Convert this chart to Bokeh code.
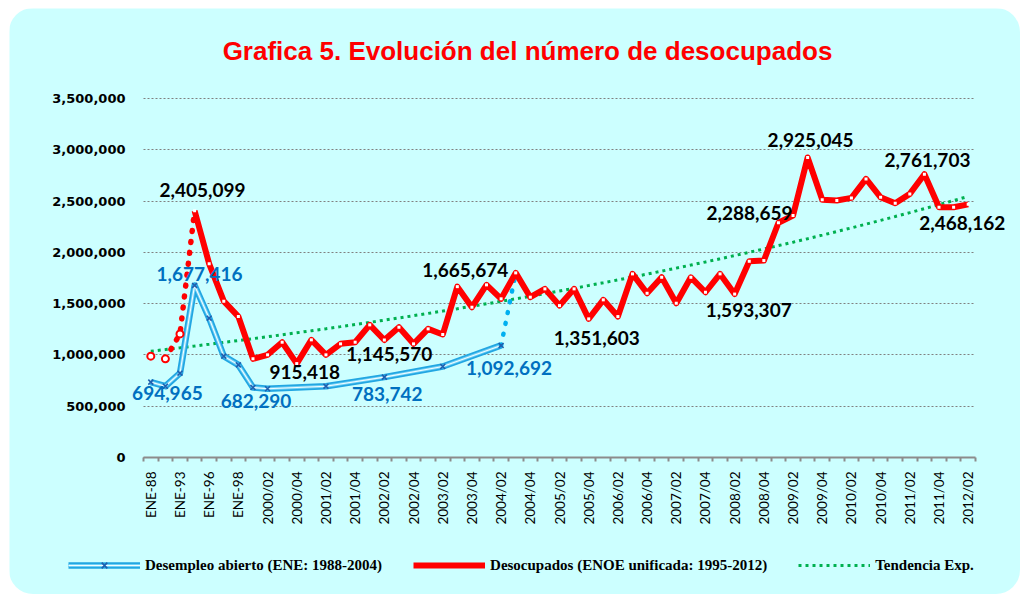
import numpy as np
from bokeh.plotting import figure
from bokeh.models import (Range1d, FixedTicker, NumeralTickFormatter, ColumnDataSource,
                          LabelSet, Label, Legend, LegendItem, InlineStyleSheet)
from bokeh.core.properties import value
from bokeh.embed import file_html
from bokeh.resources import INLINE

# ---------------- data ----------------
categories = [
    "ENE-88", "ENE-91", "ENE-93", "ENE-95", "ENE-96", "ENE-97", "ENE-98", "ENE-99",
    "2000/02", "2000/03", "2000/04",
    "2001/01", "2001/02", "2001/03", "2001/04",
    "2002/01", "2002/02", "2002/03", "2002/04",
    "2003/01", "2003/02", "2003/03", "2003/04",
    "2004/01", "2004/02", "2004/03", "2004/04",
    "2005/01", "2005/02", "2005/03", "2005/04",
    "2006/01", "2006/02", "2006/03", "2006/04",
    "2007/01", "2007/02", "2007/03", "2007/04",
    "2008/01", "2008/02", "2008/03", "2008/04",
    "2009/01", "2009/02", "2009/03", "2009/04",
    "2010/01", "2010/02", "2010/03", "2010/04",
    "2011/01", "2011/02", "2011/03", "2011/04",
    "2012/01", "2012/02",
]

# Desocupados (ENOE unificada: 1995-2012)
red_values = [
    988000, 962000, 1205000, 2405099, 1888000, 1524000, 1374000, 962000,
    1001000, 1124000, 915418,
    1147000, 1001000, 1108000, 1124000,
    1293000, 1145570, 1270000, 1108000,
    1254000, 1199000, 1665674, 1465000,
    1683000, 1547000, 1800000, 1563000,
    1644000, 1481000, 1644000, 1351603,
    1537000, 1374000, 1790000, 1601000,
    1757000, 1504000, 1757000, 1611000,
    1790000, 1593307, 1913000, 1920000,
    2288659, 2359000, 2925045, 2512000,
    2505000, 2531000, 2716000, 2537000,
    2479000, 2570000, 2761703, 2440000,
    2440000, 2468162,
]

# Desempleo abierto (ENE: 1988-2004)
blue_idx = [0, 1, 2, 3, 4, 5, 6, 7, 8, 12, 16, 20, 24]
blue_values = [735000, 694965, 822000, 1677416, 1358000, 988000, 903000, 682290,
               670000, 695000, 783742, 887000, 1092692]

# labelled points
red_label_idx = [3, 10, 16, 21, 30, 40, 43, 45, 53, 56]
blue_label_idx = [1, 3, 7, 16, 24]

legend_labels = ["Desempleo abierto (ENE: 1988-2004)",
                 "Desocupados (ENOE unificada: 1995-2012)",
                 "Tendencia Exp."]
title_text = "Grafica 5. Evolución del número de desocupados"
y_ticks = [0, 500000, 1000000, 1500000, 2000000, 2500000, 3000000, 3500000]
y_max = 3500000

# ---------------- styles / layout ----------------
red_label_off = {3: (8, -21), 10: (8, 8), 16: (5, 14), 21: (8, -17), 30: (8, 19),
                 40: (14, 16), 43: (-29, -10), 45: (3, -17), 53: (3, -14), 56: (-6, 19)}
blue_label_off = {1: (2, 7), 3: (5, -11), 7: (3, 13), 16: (3, 17), 24: (8, 23)}

BG = "#CCFFFF"
RED = "#FF0000"
BLUE_LINE = "#22A6E2"
BLUE_MARK = "#1F5FAF"
BLUE_LABEL = "#0070C0"
GREEN = "#00B050"

# page geometry (pixels)
FIG_LEFT, FIG_TOP, FIG_W, FIG_H = 9, 8, 1011, 586
PLOT_LEFT, PLOT_RIGHT, PLOT_TOP, PLOT_BOTTOM = 143, 975, 98, 457

n = len(categories)
x_all = np.arange(n)
UX = (PLOT_RIGHT - PLOT_LEFT) / n               # px per category
UY = y_max / (PLOT_BOTTOM - PLOT_TOP)           # value per px
x_start = -0.5 - (PLOT_LEFT - FIG_LEFT) / UX
x_end = n - 0.5 + (FIG_LEFT + FIG_W - PLOT_RIGHT) / UX
y_start = -(FIG_TOP + FIG_H - PLOT_BOTTOM) * UY
y_end = y_max + (PLOT_TOP - FIG_TOP) * UY

p = figure(width=FIG_W, height=FIG_H, output_backend="svg", toolbar_location=None,
           x_range=Range1d(x_start, x_end), y_range=Range1d(y_start, y_end),
           min_border=0, background_fill_color=BG, border_fill_color=BG)
p.outline_line_color = None
p.styles = {"margin-left": f"{FIG_LEFT}px", "margin-top": f"{FIG_TOP}px"}
p.stylesheets = [InlineStyleSheet(css=":host { border-radius: 24px; overflow: hidden; }")]

# axes (fixed inside the frame)
xa = p.xaxis[0]
xa.fixed_location = 0
xa.bounds = (-0.5, n - 0.5)
xa.ticker = FixedTicker(ticks=list(range(0, n, 2)),
                        minor_ticks=[i - 0.5 for i in range(n + 1)])
xa.major_label_overrides = {i: categories[i] for i in range(0, n, 2)}
xa.major_label_orientation = np.pi / 2
xa.major_tick_line_color = None
xa.major_tick_out = 0
xa.major_tick_in = 0
xa.minor_tick_line_color = "#8C8C8C"
xa.minor_tick_line_width = 2
xa.minor_tick_out = 4
xa.minor_tick_in = 0
xa.axis_line_color = "#8C8C8C"
xa.axis_line_width = 2
xa.major_label_standoff = 10
xa.major_label_text_font = "Lato"
xa.major_label_text_font_size = "13.5px"
xa.major_label_text_color = "#000000"

ya = p.yaxis[0]
ya.fixed_location = -0.5
ya.bounds = (0, y_max)
ya.ticker = FixedTicker(ticks=y_ticks)
ya.formatter = NumeralTickFormatter(format="0,0")
ya.axis_line_color = None
ya.major_tick_line_color = None
ya.minor_tick_line_color = None
ya.major_tick_out = 0
ya.major_label_standoff = 18
ya.major_label_text_font = "DejaVu Sans"
ya.major_label_text_font_style = "bold"
ya.major_label_text_font_size = "13px"
ya.major_label_text_color = "#000000"

p.xgrid.visible = False
grid = p.ygrid[0]
if "cross_bounds" in grid.properties():
    grid.cross_bounds = (-0.5, n - 0.5)
    grid.bounds = (0, y_max)
    grid.grid_line_color = "#808080"
    grid.grid_line_dash = "2 2"
    grid.grid_line_width = 1
else:
    grid.visible = False
    p.segment(x0=[-0.5] * len(y_ticks), x1=[n - 0.5] * len(y_ticks), y0=y_ticks, y1=y_ticks,
              line_color="#808080", line_dash="2 2", line_width=1)

# exponential trend fitted to the red series
b, lna = np.polyfit(x_all, np.log(np.array(red_values, dtype=float)), 1)
trend = np.exp(lna + b * x_all)
g_line = p.line(x_all, trend, line_color=GREEN, line_width=3, line_dash="3 4")

# blue series (double line)
bx = np.array(blue_idx)
by = np.array(blue_values)
b_outer = p.line(bx, by, line_color=BLUE_LINE, line_width=6.5, line_join="round")
b_mid = p.line(bx, by, line_color="#6FD0F5", line_width=3, line_join="round")
b_inner = p.line(bx, by, line_color="#F2FCFF", line_width=1.1, line_join="round")
p.line([blue_idx[-1], blue_idx[-1] + 1], [blue_values[-1], red_values[blue_idx[-1] + 1]],
       line_color="#00B0F0", line_width=4.5, line_dash="1 10", line_cap="round")

# red series
p.line(x_all[1:4], red_values[1:4], line_color=RED, line_width=5.5,
       line_dash="1 10", line_cap="round")
r_line = p.line(x_all[3:], red_values[3:], line_color=RED, line_width=6, line_join="round")
p.scatter(x_all[:3], red_values[:3], marker="circle", size=7, fill_color="white",
          line_color=RED, line_width=2)
p.scatter(x_all[3:], red_values[3:], marker="square", size=3,
          fill_color="white", line_color=None)
b_marks = p.scatter(bx, by, marker="x", size=7, line_color=BLUE_MARK, line_width=1.6)
# small white mark used only for the legend swatch of the red series
r_leg_mark = p.scatter(x=[], y=[], marker="square", size=3, line_color="white",
                       fill_color="white", line_width=1, fill_alpha=0, line_alpha=0)

# data labels
lab_x, lab_y, lab_t, lab_c, lab_dx, lab_dy = [], [], [], [], [], []
for i in red_label_idx:
    lab_x.append(i); lab_y.append(red_values[i]); lab_t.append(f"{red_values[i]:,}")
    lab_c.append("#000000"); lab_dx.append(red_label_off[i][0]); lab_dy.append(-red_label_off[i][1])
for i in blue_label_idx:
    v = blue_values[blue_idx.index(i)]
    lab_x.append(i); lab_y.append(v); lab_t.append(f"{v:,}")
    lab_c.append(BLUE_LABEL); lab_dx.append(blue_label_off[i][0]); lab_dy.append(-blue_label_off[i][1])
src = ColumnDataSource(dict(x=lab_x, y=lab_y, t=lab_t, c=lab_c, dx=lab_dx, dy=lab_dy))
p.add_layout(LabelSet(x="x", y="y", text="t", source=src, text_color="c",
                      x_offset="dx", y_offset="dy", text_align="center", text_baseline="middle",
                      text_font=value("Lato"), text_font_style="bold", text_font_size="19px"))

# title
TITLE_CX, TITLE_CY = 527, 50
p.add_layout(Label(x=-0.5 + (TITLE_CX - PLOT_LEFT) / UX, y=y_max + (PLOT_TOP - TITLE_CY) * UY,
                   text=title_text, text_align="center", text_baseline="middle",
                   text_font="Liberation Sans", text_font_style="bold",
                   text_font_size="26px", text_color=RED))

# legend
legend = Legend(items=[
    LegendItem(label=legend_labels[0], renderers=[b_outer, b_mid, b_inner, b_marks]),
    LegendItem(label=legend_labels[1], renderers=[r_line]),
    LegendItem(label=legend_labels[2], renderers=[g_line]),
], orientation="horizontal", location=(68 - FIG_LEFT, FIG_TOP + FIG_H - 575))
legend.glyph_width = 72
legend.glyph_height = 20
legend.label_standoff = 5
legend.spacing = 31
legend.padding = 0
legend.margin = 0
legend.background_fill_alpha = 0
legend.border_line_color = None
legend.label_text_font = "Liberation Serif"
legend.label_text_font_style = "bold"
legend.label_text_font_size = "15px"
legend.label_text_color = "#000000"
p.add_layout(legend, "center")

open("out.html", "w").write(file_html(p, INLINE))
